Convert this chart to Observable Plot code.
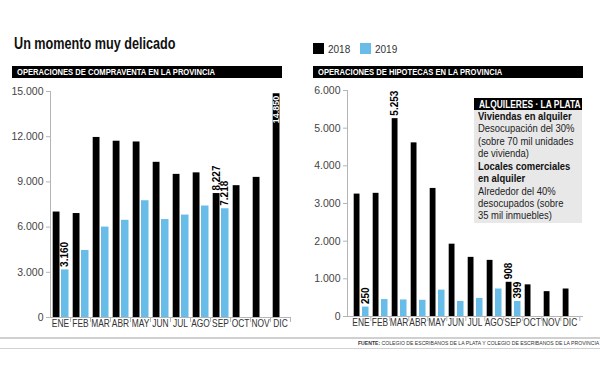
<!DOCTYPE html>
<html>
<head>
<meta charset="utf-8">
<script src="https://cdn.jsdelivr.net/npm/d3@7"></script>
<script src="https://cdn.jsdelivr.net/npm/@observablehq/plot@0.6"></script>
<style>
  html, body { margin: 0; padding: 0; background: #fff; }
  #root { position: relative; width: 600px; height: 365px; overflow: hidden; background: #fff;
          font-family: "Liberation Sans", Arial, sans-serif; color: #111; }
  .abs { position: absolute; }
  .sx { display: inline-block; transform-origin: 0 0; white-space: nowrap; }
  .title { left: 14px; top: 35px; font: bold 16px "Liberation Sans", Arial, sans-serif; color: #111; }
  .title .sx { transform: scaleX(0.79); }
  .head { height: 12px; background: #000; color: #fff; font: bold 9.5px/12px "Liberation Sans", Arial, sans-serif; padding-left: 5px; box-sizing: border-box; white-space: nowrap; overflow: hidden; }
  .head .sx { transform: scaleX(0.8); }
  .leg { font: 10px "Liberation Sans", Arial, sans-serif; color: #333; top: 43.5px; }
  .sw { top: 43px; width: 11px; height: 11px; }
  .box { left: 474px; top: 98px; width: 108px; height: 125px; background: #e8e8e8; }
  .boxhead { left: 474px; top: 98px; width: 108px; height: 12px; background: #000; color: #fff;
             font: bold 10.5px/12px "Liberation Sans", Arial, sans-serif; white-space: nowrap; padding-left: 5px; box-sizing: border-box; }
  .boxhead .sx { transform: scaleX(0.8); }
  .boxtxt { left: 478px; font: 11.5px/12.3px "Liberation Sans", Arial, sans-serif; color: #222; white-space: nowrap; }
  .boxtxt .sx { transform: scaleX(0.82); }
  .boxtxt b { color: #111; }
  .hr { left: 0; width: 600px; height: 1.5px; background: #d0d0d0; }
  .src { left: 358px; top: 340px; font: 5.5px "Liberation Sans", Arial, sans-serif; color: #333; white-space: nowrap; }
  .src .sx { transform: scaleX(0.93); }
</style>
</head>
<body>
<div id="root">
  <div class="abs title"><span class="sx">Un momento muy delicado</span></div>

  <div class="abs sw" style="left:313px;background:#000"></div>
  <div class="abs leg" style="left:328px">2018</div>
  <div class="abs sw" style="left:360px;background:#67bde8"></div>
  <div class="abs leg" style="left:375px">2019</div>

  <div class="abs head" style="left:12px;top:66px;width:270px"><span class="sx">OPERACIONES DE COMPRAVENTA EN LA PROVINCIA</span></div>
  <div class="abs head" style="left:313px;top:66px;width:270px"><span class="sx">OPERACIONES DE HIPOTECAS EN LA PROVINCIA</span></div>

  <div id="left" class="abs" style="left:0;top:80px"></div>
  <div id="right" class="abs" style="left:300px;top:80px"></div>

  <div class="abs box"></div>
  <div class="abs boxhead"><span class="sx">ALQUILERES · LA PLATA</span></div>
  <div class="abs boxtxt" style="top:110px"><span class="sx"><b>Viviendas en alquiler</b><br>Desocupación del 30%<br>(sobre 70 mil unidades<br>de vivienda)</span></div>
  <div class="abs boxtxt" style="top:160px"><span class="sx"><b>Locales comerciales<br>en alquiler</b><br>Alrededor del 40%<br>desocupados (sobre<br>35 mil inmuebles)</span></div>

  <div class="abs hr" style="top:337px"></div>
  <div class="abs hr" style="top:347.5px"></div>
  <div class="abs src"><span class="sx"><b>FUENTE:</b> COLEGIO DE ESCRIBANOS DE LA PLATA Y COLEGIO DE ESCRIBANOS DE LA PROVINCIA</span></div>
</div>
<script>
const months = ["ENE","FEB","MAR","ABR","MAY","JUN","JUL","AGO","SEP","OCT","NOV","DIC"];

const compra2018 = [7000, 6900, 11950, 11700, 11650, 10300, 9500, 9600, 8227, 8750, 9300, 14850];
const compra2019 = [3160, 4450, 6000, 6450, 7750, 6500, 6800, 7400, 7218, null, null, null];
const compraTicks = [0, 3000, 6000, 9000, 12000, 15000];
const compraLabels2018 = ["SEP"];
const compraInside2018 = ["DIC"];
const compraLabels2019 = ["ENE", "SEP"];

const hipo2018 = [3250, 3270, 5253, 4610, 3400, 1920, 1570, 1490, 908, 840, 660, 730];
const hipo2019 = [250, 450, 440, 430, 700, 400, 480, 730, 399, null, null, null];
const hipoTicks = [0, 1000, 2000, 3000, 4000, 5000, 6000];
const hipoLabels2018 = ["MAR", "SEP"];
const hipoInside2018 = [];
const hipoLabels2019 = ["ENE", "SEP"];

const fmt = d => d3.format(",")(d).replace(/,/g, ".");
const BLUE = "#67bde8";

function chart(v18, v19, ticks, lab18, in18, lab19, m) {
  const rows = months.map((mo, i) => ({month: mo, a: v18[i], b: v19[i]}));
  const bw = (300 - m.left - m.right) / months.length;
  const blackOff = (2.7 + (bw - 10.5)) / 2 - bw / 2;
  const blueOff = (11 + (bw - 1.5)) / 2 - bw / 2;
  const svg = Plot.plot({
    width: 300, height: 265,
    marginLeft: m.left, marginRight: m.right, marginTop: m.top, marginBottom: m.bottom,
    style: {fontFamily: "'Liberation Sans', Arial, sans-serif", fontSize: "10px", background: "transparent", overflow: "visible"},
    x: {domain: months, padding: 0, axis: null},
    y: {domain: [0, ticks[ticks.length - 1]], axis: null},
    marks: [
      Plot.barY(rows, {x: "month", y: "a", fill: "#000", insetLeft: 2.7, insetRight: 10.5}),
      Plot.barY(rows.filter(d => d.b != null), {x: "month", y: "b", fill: BLUE, insetLeft: 11, insetRight: 1.5}),
      Plot.frame({anchor: "left", stroke: "#b5b5b5"}),
      Plot.ruleY([0], {stroke: "#b5b5b5"}),
      Plot.axisY({ticks, tickFormat: fmt, tickSize: 4, tickPadding: 3, stroke: "#b5b5b5", fill: "#444", fontSize: 10.5, label: null}),
      Plot.axisX({tickSize: 0, tickPadding: 2.5, fill: "#333", fontSize: 10.5, label: null}),
      Plot.axisX({tickSize: 5, tickFormat: () => "", dx: bw / 2, stroke: "#b5b5b5", label: null}),
      Plot.text(rows.filter(d => lab18.includes(d.month)), {x: "month", y: "a", text: d => fmt(d.a), rotate: -90, textAnchor: "start", lineAnchor: "middle", dx: blackOff, dy: -3, fontWeight: "bold", fontSize: 10, fill: "#000"}),
      Plot.text(rows.filter(d => in18.includes(d.month)), {x: "month", y: "a", text: d => fmt(d.a), rotate: -90, textAnchor: "end", lineAnchor: "middle", dx: blackOff, dy: 2, fontWeight: "bold", fontSize: 9, fill: "#fff"}),
      Plot.text(rows.filter(d => lab19.includes(d.month)), {x: "month", y: "b", text: d => fmt(d.b), rotate: -90, textAnchor: "start", lineAnchor: "middle", dx: blueOff, dy: -3, fontWeight: "bold", fontSize: 10, fill: "#000"})
    ]
  });
  // condense the month labels horizontally, like the narrow newspaper face
  svg.querySelectorAll("text").forEach(t => {
    if (months.includes(t.textContent)) {
      const tr = t.getAttribute("transform") || "";
      t.setAttribute("transform", tr + " scale(0.8,1)");
    }
  });
  return svg;
}

document.getElementById("left").appendChild(
  chart(compra2018, compra2019, compraTicks, compraLabels2018, compraInside2018, compraLabels2019,
        {left: 50, right: 10, top: 11, bottom: 28}));
document.getElementById("right").appendChild(
  chart(hipo2018, hipo2019, hipoTicks, hipoLabels2018, hipoInside2018, hipoLabels2019,
        {left: 47, right: 17, top: 10, bottom: 29}));
</script>
</body>
</html>
